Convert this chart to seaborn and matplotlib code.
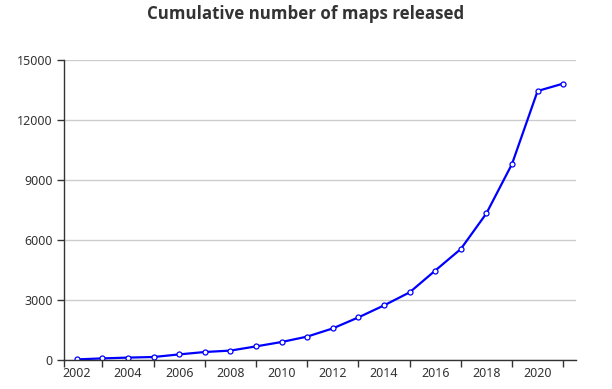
import pandas as pd
import matplotlib
matplotlib.use("Agg")
import matplotlib.pyplot as plt
from matplotlib.ticker import FixedLocator
import seaborn as sns

years = list(range(2002, 2022))
maps_cumulative = [30, 80, 120, 150, 280, 400, 470, 680, 900, 1170,
                   1580, 2130, 2730, 3380, 4470, 5550, 7330, 9800, 13450, 13820]
y_ticks = [0, 3000, 6000, 9000, 12000, 15000]
x_labels = [str(y) for y in years if y % 2 == 0]

df = pd.DataFrame({"Year": years, "Maps": maps_cumulative})

sns.set_style("white")
plt.rcParams["font.family"] = ["Noto Sans", "DejaVu Sans"]

fig = plt.figure(figsize=(6.12, 3.89), dpi=100)
ax = fig.add_axes([64 / 612, 1 - 360 / 389, 512 / 612, 300 / 389])

sns.lineplot(
    data=df, x="Year", y="Maps", ax=ax,
    color="#0000ff", linewidth=1.6,
    marker="o", markersize=3.6, markerfacecolor="white",
    markeredgecolor="#0000ff", markeredgewidth=0.9,
)

# category axis with a half-band gap on each side
ax.set_xlim(years[0] - 0.5, years[-1] + 0.5)
ax.set_ylim(0, 15000)

ax.set_xticks([y for y in years if y % 2 == 0])
ax.set_xticklabels(x_labels)
ax.xaxis.set_minor_locator(FixedLocator([years[0] - 0.5] + [y for y in years if y % 2 == 1]))
ax.tick_params(axis="x", which="major", length=0, pad=5, labelsize=9, labelcolor="#333333")
ax.tick_params(axis="x", which="minor", length=5, width=1, color="#333333", direction="out")
ax.xaxis.set_tick_params(which="minor", bottom=True)

ax.set_yticks(y_ticks)
ax.tick_params(axis="y", length=5, width=1, color="#333333", direction="out",
               left=True, labelsize=9, labelcolor="#333333", pad=3)

ax.grid(axis="y", color="#cccccc", linewidth=1)
ax.grid(axis="x", visible=False)
ax.set_axisbelow(True)

for side in ["top", "right"]:
    ax.spines[side].set_visible(False)
for side in ["left", "bottom"]:
    ax.spines[side].set_color("#333333")
    ax.spines[side].set_linewidth(1)

ax.set_xlabel("")
ax.set_ylabel("")

fig.suptitle("Cumulative number of maps released", x=306 / 612, y=1 - 14 / 389, va="center",
             fontsize=12.2, fontweight="bold", color="#333333",
             family=["Open Sans", "DejaVu Sans"])

fig.savefig("out.png", dpi=100)
